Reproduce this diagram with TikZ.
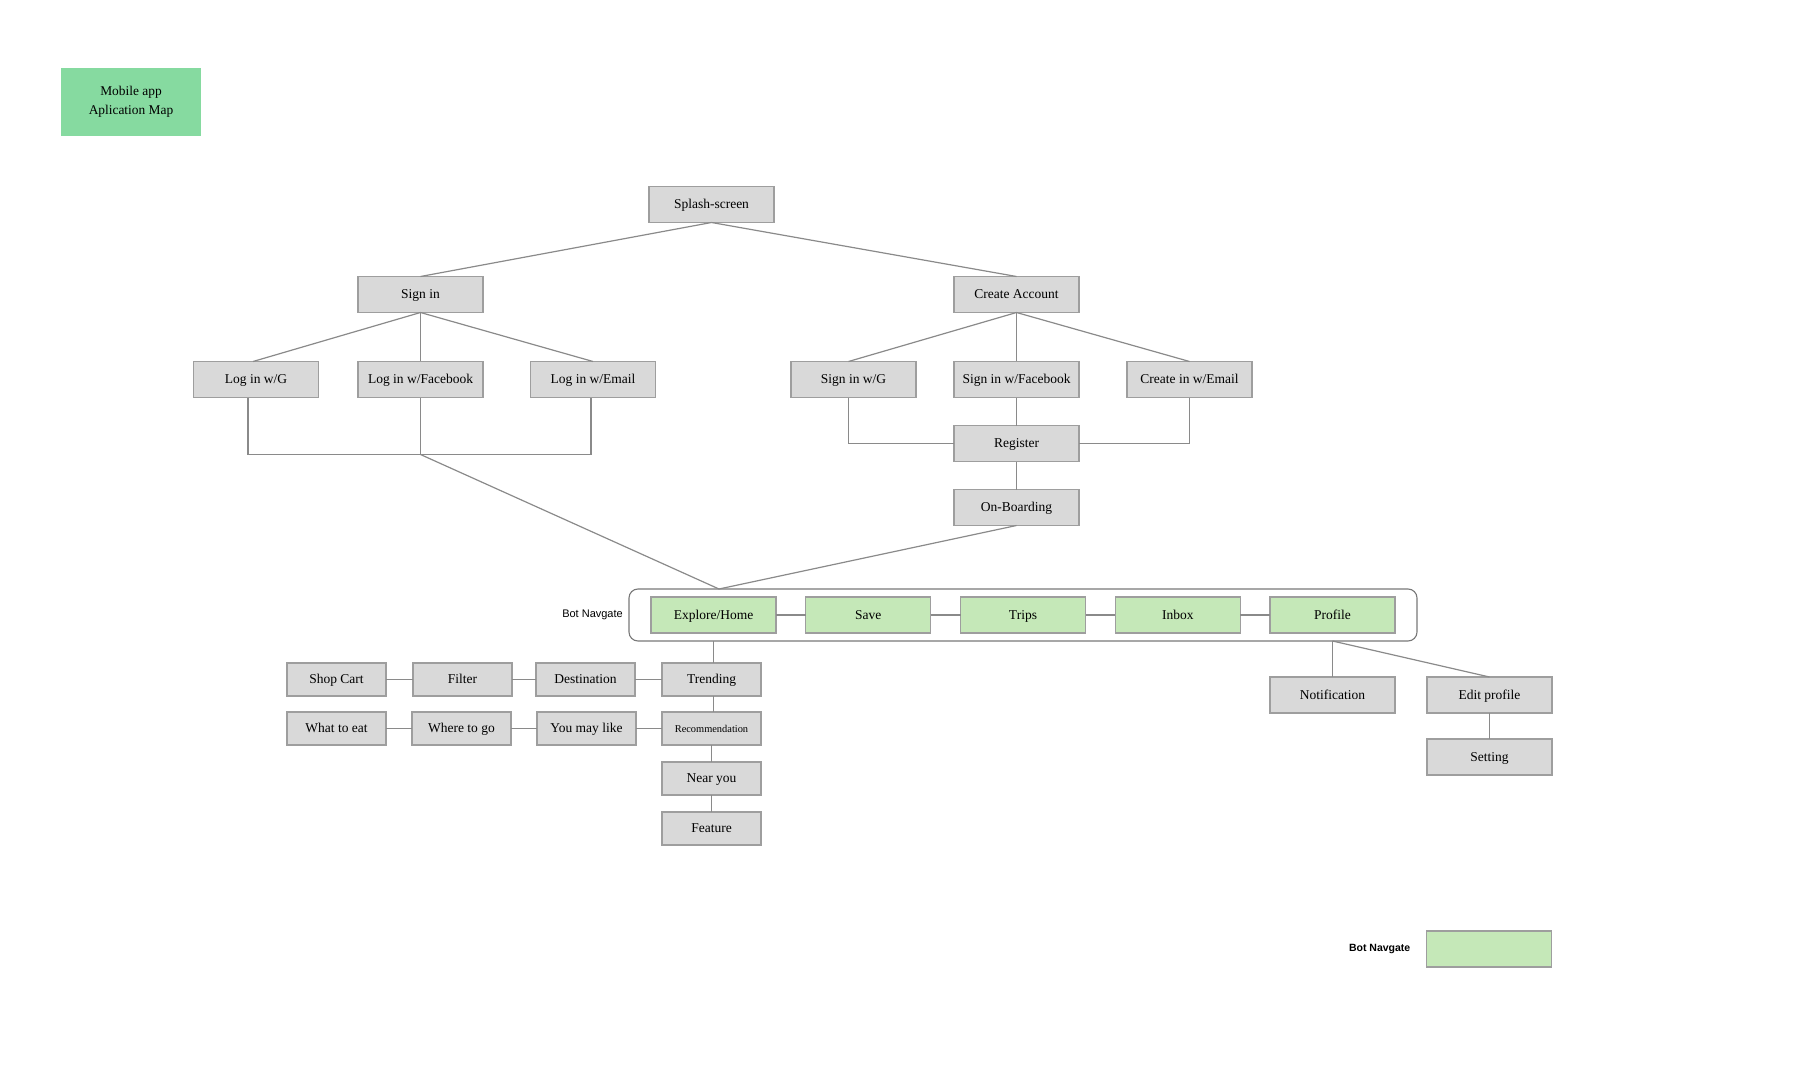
\documentclass[tikz,border=0pt]{standalone}
\usepackage{fontspec}
\setmainfont{Liberation Serif}
\newfontfamily\navfont{Liberation Sans}
\usetikzlibrary{positioning,fit}
\definecolor{boxgray}{RGB}{217,217,217}
\definecolor{boxline}{RGB}{158,158,158}
\definecolor{navgreen}{RGB}{197,232,184}
\definecolor{titlegreen}{RGB}{134,218,160}
\definecolor{linegray}{RGB}{138,138,138}
\definecolor{framegray}{RGB}{120,120,120}

\begin{document}
\begin{tikzpicture}[
    x=1pt, y=-1pt,
    font=\fontsize{13.5}{16}\selectfont,
    box/.style={draw=boxline, line width=1.2pt, fill=boxgray, minimum width=125pt, minimum height=36pt, inner sep=0pt, outer sep=0pt, text height=0.9em, text depth=0.06em, text=black},
    smallbox/.style={box, minimum width=99pt, minimum height=33pt},
    navbox/.style={box, fill=navgreen},
    navframe/.style={draw=framegray, line width=1.1pt, rounded corners=9pt, outer sep=0pt},
    titlebox/.style={fill=titlegreen, minimum width=140pt, minimum height=68pt, align=center, font=\fontsize{13.4}{19.5}\selectfont},
    link/.style={draw=linegray, line width=1.2pt}
]
\useasboundingbox (0,0) rectangle (1800,1091);

\node[titlebox] (title) at (131,102) {Mobile app\\Aplication Map};

\node[box] (splash) at (711.5,204.5) {Splash-screen};
\node[box, below=54pt of splash, xshift=-291pt] (signin) {Sign in};
\node[box, below=54pt of splash, xshift=305pt] (create) {Create Account};
\node[box, below=49pt of signin, xshift=-164.5pt] (lg) {Log in w/G};
\node[box, below=49pt of signin] (lf) {Log in w/Facebook};
\node[box, below=49pt of signin, xshift=172.5pt] (le) {Log in w/Email};
\node[box, below=49pt of create, xshift=-163pt] (sg) {Sign in w/G};
\node[box, below=49pt of create] (sf) {Sign in w/Facebook};
\node[box, below=49pt of create, xshift=173pt] (se) {Create in w/Email};
\node[box, below=28pt of sf] (reg) {Register};
\node[box, below=28pt of reg] (onb) {On-Boarding};

\node[navbox] (explore) at (713.5,615) {Explore/Home};
\node[navbox, right=29.75pt of explore] (save) {Save};
\node[navbox, right=29.75pt of save] (trips) {Trips};
\node[navbox, right=29.75pt of trips] (inbox) {Inbox};
\node[navbox, right=29.75pt of inbox] (profile) {Profile};
\node[navframe, fit=(explore)(profile), inner xsep=22pt, inner ysep=8pt] (nav) {};
\node[inner sep=0pt, left=6pt of nav, font=\navfont\fontsize{11}{13}\selectfont] (navlbl) {Bot Navgate};

\node[smallbox, below=30pt of explore, xshift=-2pt] (trend) {Trending};
\node[smallbox, below=16pt of trend, font=\fontsize{10.4}{12}\selectfont] (rec) {Recommendation};
\node[smallbox, below=17pt of rec] (near) {Near you};
\node[smallbox, below=17pt of near] (feat) {Feature};
\node[smallbox, left=27pt of trend] (dest) {Destination};
\node[smallbox, left=24pt of dest] (filter) {Filter};
\node[smallbox, left=27pt of filter] (shop) {Shop Cart};
\node[smallbox, left=26pt of rec] (youmay) {You may like};
\node[smallbox, left=26pt of youmay] (where) {Where to go};
\node[smallbox, left=26pt of where] (whatto) {What to eat};

\node[box, below=44pt of profile] (notif) {Notification};
\node[box, right=32pt of notif] (edit) {Edit profile};
\node[box, below=26pt of edit] (setting) {Setting};

\node[navbox] (legend) at (1489,949) {};
\node[inner sep=0pt, left=16pt of legend, font=\navfont\bfseries\fontsize{10.5}{13}\selectfont] (legendlbl) {Bot Navgate};

\coordinate (lbus) at ([yshift=-57pt]lf.south);
\coordinate (navin) at ([xshift=5.5pt]explore |- nav.north);

\draw[link] (splash.south) -- (signin.north);
\draw[link] (splash.south) -- (create.north);
\draw[link] (signin.south) -- ([xshift=-3pt]lg.north);
\draw[link] (signin.south) -- (lf.north);
\draw[link] (signin.south) -- (le.north);
\draw[link] ([xshift=-8pt]lg.south) |- (lbus) -| ([xshift=-2pt]le.south);
\draw[link] (lf.south) -- (lbus);
\draw[link] (lbus) -- (navin);
\draw[link] (create.south) -- ([xshift=-5pt]sg.north);
\draw[link] (create.south) -- (sf.north);
\draw[link] (create.south) -- (se.north);
\draw[link] ([xshift=-5pt]sg.south) |- (reg.west);
\draw[link] (se.south) |- (reg.east);
\draw[link] (sf) -- (reg);
\draw[link] (reg) -- (onb);
\draw[link] (onb.south) -- (navin);
\foreach \a/\b in {explore/save, save/trips, trips/inbox, inbox/profile}
    \draw[link] (\a) -- (\b);
\draw[link] (explore |- nav.south) -- (explore |- trend.north);
\foreach \a/\b in {rec/near, near/feat, shop/filter, filter/dest, dest/trend, whatto/where, where/youmay, youmay/rec}
    \draw[link] (\a) -- (\b);
\draw[link] (explore |- trend.south) -- (explore |- rec.north);
\draw[link] (profile |- nav.south) -- (notif);
\draw[link] (profile |- nav.south) -- (edit.north);
\draw[link] (edit) -- (setting);
\end{tikzpicture}
\end{document}
